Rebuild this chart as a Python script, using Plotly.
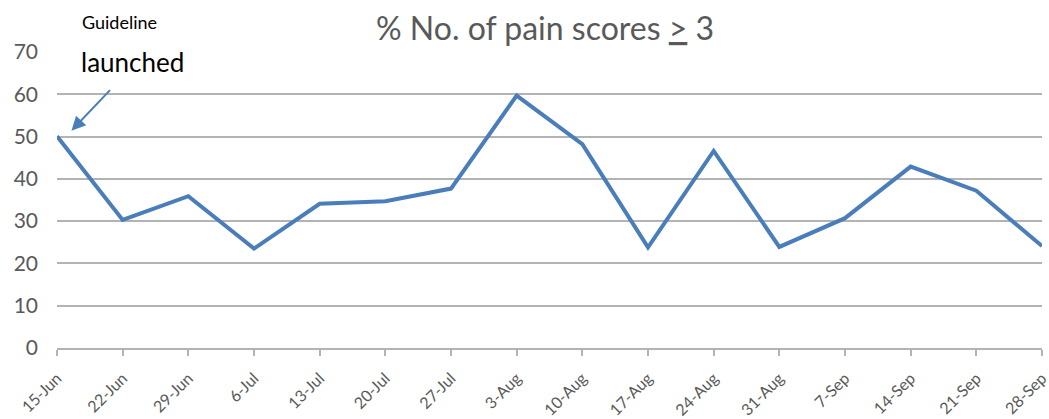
import plotly.graph_objects as go

categories = ["15-Jun", "22-Jun", "29-Jun", "6-Jul", "13-Jul", "20-Jul", "27-Jul", "3-Aug",
              "10-Aug", "17-Aug", "24-Aug", "31-Aug", "7-Sep", "14-Sep", "21-Sep", "28-Sep"]
values = [50.1, 30.3, 35.9, 23.5, 34.1, 34.7, 37.7, 59.7,
          48.2, 23.8, 46.6, 23.9, 30.7, 42.9, 37.2, 24.1]
y_ticks = [0, 10, 20, 30, 40, 50, 60, 70]

FONT = "Lato, 'Open Sans', sans-serif"
GREY = "#595959"
GRID = "#B3B3B3"

fig = go.Figure()
fig.add_trace(go.Scatter(
    x=categories, y=values, mode="lines",
    line=dict(color="#4A7EBB", width=4), showlegend=False,
))

fig.update_layout(
    width=1049, height=419,
    margin=dict(l=57, r=7, t=52, b=71),
    paper_bgcolor="white", plot_bgcolor="white",
    font=dict(family=FONT, color=GREY),
    xaxis=dict(
        type="category", range=[0, len(categories) - 1], automargin=False,
        tickangle=-45, tickfont=dict(size=16, color=GREY),
        ticks="outside", ticklen=6, tickcolor=GRID, tickwidth=1.5,
        showline=True, linecolor=GRID, linewidth=1.5,
        showgrid=False, zeroline=False, ticklabelstandoff=7,
    ),
    yaxis=dict(
        range=[0, 70], tickvals=y_ticks, automargin=False,
        tickfont=dict(size=21, color=GREY),
        showgrid=True, gridcolor=GRID, gridwidth=1.5,
        zeroline=False, showline=False, ticks="", ticklabelstandoff=18,
    ),
    annotations=[
        dict(text="% No. of pain scores <u>></u> 3", xref="paper", yref="paper",
             x=0.495, y=(348 - 28) / 296, xanchor="center", yanchor="middle", showarrow=False,
             font=dict(size=32, color=GREY, family=FONT)),
        dict(text="Guideline", xref="paper", yref="paper",
             x=(80 - 57) / 985, y=(348 - 22) / 296, xanchor="left", yanchor="middle",
             showarrow=False, font=dict(size=18, color="black", family=FONT)),
        dict(text="launched", xref="paper", yref="paper",
             x=(79 - 57) / 985, y=(348 - 62) / 296, xanchor="left", yanchor="middle",
             showarrow=False, font=dict(size=26, color="black", family=FONT)),
        dict(text="", x=0.22, y=51.4, xref="x", yref="y",
             showarrow=True, ax=40, ay=-42, arrowhead=2, arrowsize=1.4,
             arrowwidth=2, arrowcolor="#4A7EBB"),
    ],
)

fig.write_html("out.html", config={"displayModeBar": False},
               post_script="document.body.style.margin='0';")
